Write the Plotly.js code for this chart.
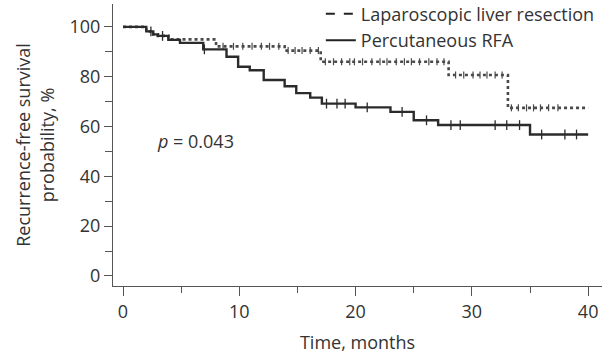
<!DOCTYPE html>
<html>
<head>
<meta charset="utf-8">
<script src="https://cdn.plot.ly/plotly-3.0.1.min.js"></script>
<style>html,body{margin:0;padding:0;background:#fff;}#chart{width:611px;height:354px;}</style>
</head>
<body>
<div id="chart"></div>
<script>
// Laparoscopic liver resection (Kaplan-Meier steps)
var lapTime = [0, 2.0, 2.6, 3.0, 3.9, 8.0, 13.9, 17.0, 28.0, 33.1, 40];
var lapSurv = [100, 98.2, 97.0, 96.4, 95.0, 92.2, 90.5, 86.0, 80.7, 67.5, 67.5];
var lapCensor = [8.6, 9.5, 10.3, 11.1, 11.9, 12.6, 13.4, 14.2, 14.8, 15.4, 16.1, 16.8,
  17.4, 18.1, 18.8, 19.5, 19.9, 20.6, 21.4, 22.1, 22.7, 23.5, 24.2, 24.8, 25.5, 26.3, 27.0, 27.6,
  28.6, 29.3, 30.1, 30.7, 31.3, 32.0, 32.6, 33.4, 34.0, 34.7, 35.3, 35.9, 36.6, 37.4];

// Percutaneous RFA
var rfaTime = [0, 2.0, 2.6, 3.0, 3.9, 4.9, 6.9, 8.9, 9.9, 10.9, 12.1, 13.9, 14.9, 16.1, 17.1, 20.0, 23.0, 25.0, 27.1, 35.0, 40];
var rfaSurv = [100, 98.2, 97.0, 96.4, 94.8, 93.6, 91.0, 88.0, 84.0, 82.6, 78.7, 76.2, 73.4, 71.6, 69.2, 67.7, 65.9, 62.5, 60.6, 56.8, 56.8];
var rfaCensor = [2.4, 3.4, 7.0, 17.5, 18.4, 19.1, 21.0, 24.0, 26.1, 28.2, 29.0, 32.0, 33.0, 34.1, 36.0, 38.0, 39.0];

var xTicks = [0, 10, 20, 30, 40];
var yTicks = [0, 20, 40, 60, 80, 100];
var seriesNames = ['Laparoscopic liver resection', 'Percutaneous RFA'];
var pLabel = '<i>p</i> = 0.043';

function stepValue(times, surv, t) {
  var v = surv[0];
  for (var i = 0; i < times.length; i++) { if (times[i] <= t) v = surv[i]; }
  return v;
}

var lapCol = '#4a4a4a', rfaCol = '#2b2b2b';
var traces = [
  {x: lapTime, y: lapSurv, mode: 'lines', line: {shape: 'hv', dash: 'dot', width: 2.6, color: lapCol}, showlegend: false, hoverinfo: 'skip'},
  {x: lapCensor, y: lapCensor.map(function(t){return stepValue(lapTime, lapSurv, t);}), mode: 'markers',
    marker: {symbol: 'line-ns', size: 5, line: {width: 1.2, color: lapCol}}, showlegend: false},
  {x: rfaTime, y: rfaSurv, mode: 'lines', line: {shape: 'hv', width: 2.4, color: rfaCol}, showlegend: false, hoverinfo: 'skip'},
  {x: rfaCensor, y: rfaCensor.map(function(t){return stepValue(rfaTime, rfaSurv, t);}), mode: 'markers',
    marker: {symbol: 'line-ns', size: 7, line: {width: 1.3, color: rfaCol}}, showlegend: false},
  {x: [null], y: [null], mode: 'lines', name: seriesNames[0], line: {dash: 'dash', width: 2, color: '#222'}},
  {x: [null], y: [null], mode: 'lines', name: seriesNames[1], line: {width: 2, color: '#222'}}
];

var font = {family: '"Open Sans", "Noto Sans", sans-serif', size: 18, color: '#333'};
var layout = {
  width: 611, height: 354,
  margin: {l: 113, r: 9, t: 4, b: 68, autoexpand: false},
  paper_bgcolor: '#fff', plot_bgcolor: '#fff',
  font: font,
  showlegend: true,
  legend: {x: 0.425, xanchor: 'left', y: 1.03, yanchor: 'top', bgcolor: 'rgba(0,0,0,0)', font: font, tracegroupgap: 0},
  xaxis: {
    range: [-0.86, 41.19], tickvals: xTicks, ticktext: xTicks.map(String),
    ticks: 'outside', ticklen: 9, tickwidth: 1, tickcolor: '#555',
    minor: {dtick: 5, tick0: 0, ticks: 'outside', ticklen: 6, tickcolor: '#555', showgrid: false},
    showline: true, linecolor: '#555', linewidth: 1, showgrid: false, zeroline: false,
    title: {text: 'Time, months', font: font, standoff: 14}
  },
  yaxis: {
    range: [-4.02, 109.2], tickvals: yTicks, ticktext: yTicks.map(String),
    ticks: 'outside', ticklen: 8, tickwidth: 1, tickcolor: '#555',
    minor: {dtick: 10, tick0: 0, ticks: 'outside', ticklen: 7, tickcolor: '#555', showgrid: false},
    showline: true, linecolor: '#555', linewidth: 1, showgrid: false, zeroline: false,
    title: {text: 'Recurrence-free survival<br>probability, %', font: font, standoff: 10}
  },
  annotations: [
    {x: 2.75, y: 54.2, xref: 'x', yref: 'y', xanchor: 'left', yanchor: 'middle', text: pLabel, showarrow: false, font: font}
  ]
};

Plotly.newPlot('chart', traces, layout, {displayModeBar: false, staticPlot: true});
</script>
</body>
</html>
